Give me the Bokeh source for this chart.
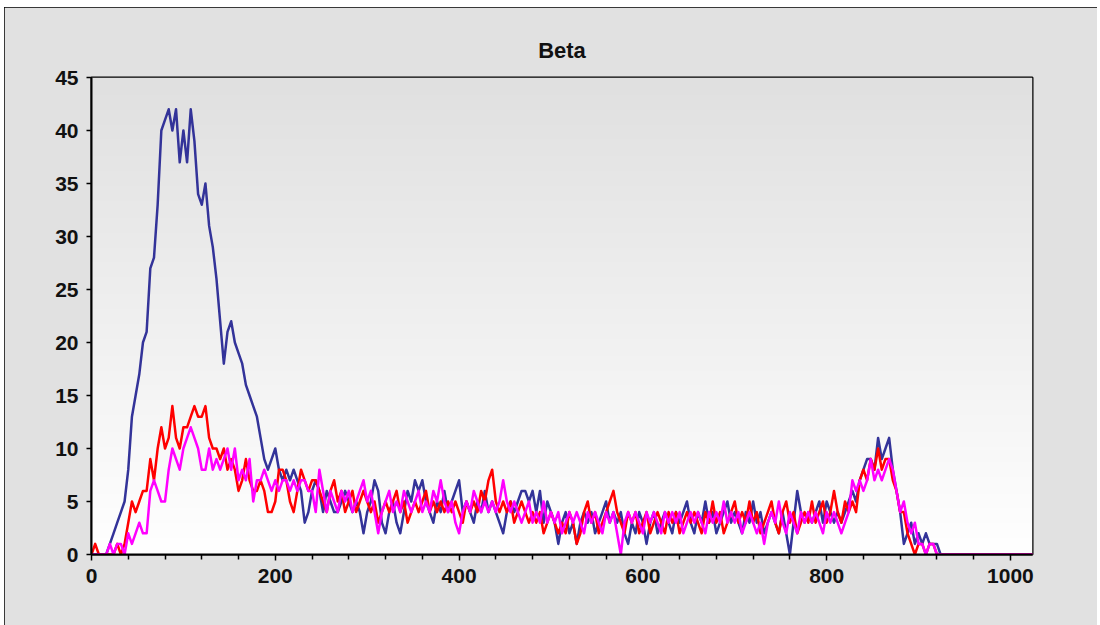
import numpy as np
from bokeh.plotting import figure
from bokeh.models import Range1d, FixedTicker
from bokeh.embed import file_html
from bokeh.resources import INLINE

channel_step = 4

blue = [
    0, 0, 0, 0, 0, 1, 2, 3, 4, 5,
    8, 13, 15, 17, 20, 21, 27, 28, 33, 40,
    41, 42, 40, 42, 37, 40, 37, 42, 39, 34,
    33, 35, 31, 29, 26, 22, 18, 21, 22, 20,
    19, 18, 16, 15, 14, 13, 11, 9, 8, 9,
    10, 8, 7, 8, 7, 8, 7, 6, 3, 4,
    6, 7, 6, 4, 6, 5, 4, 4, 5, 6,
    5, 4, 5, 4, 2, 4, 5, 7, 6, 3,
    2, 4, 5, 3, 2, 4, 6, 5, 7, 6,
    7, 5, 4, 3, 5, 4, 6, 4, 5, 6,
    7, 4, 5, 4, 3, 5, 4, 6, 4, 5,
    4, 3, 2, 4, 5, 4, 5, 6, 6, 5,
    6, 4, 6, 3, 5, 4, 3, 1, 3, 4,
    2, 3, 1, 3, 4, 3, 4, 2, 3, 4,
    5, 3, 4, 3, 4, 2, 1, 3, 2, 4,
    3, 1, 3, 4, 2, 3, 4, 3, 2, 4,
    3, 4, 5, 3, 2, 4, 3, 5, 3, 4,
    2, 3, 4, 5, 3, 4, 3, 2, 4, 3,
    5, 3, 4, 2, 3, 4, 3, 2, 4, 2,
    0, 3, 6, 4, 3, 4, 3, 4, 5, 3,
    5, 4, 3, 4, 3, 4, 5, 6, 5, 7,
    8, 9, 9, 8, 11, 9, 10, 11, 8, 6,
    4, 1, 2, 3, 1, 2, 1, 2, 1, 1,
    1, 0, 0, 0, 0, 0, 0, 0, 0, 0,
    0, 0, 0, 0, 0, 0, 0, 0, 0, 0,
    0, 0, 0, 0, 0, 0, 0,
]

red = [
    0, 1, 0, 0, 0, 0, 0, 1, 0, 1,
    3, 5, 4, 5, 6, 6, 9, 7, 10, 12,
    10, 11, 14, 11, 10, 12, 12, 13, 14, 13,
    13, 14, 11, 10, 10, 9, 10, 8, 9, 8,
    6, 7, 9, 7, 6, 6, 7, 6, 4, 4,
    5, 8, 8, 7, 5, 4, 6, 8, 7, 6,
    7, 7, 6, 5, 4, 6, 7, 5, 6, 4,
    5, 6, 4, 5, 6, 5, 4, 5, 3, 4,
    5, 4, 5, 6, 4, 5, 3, 4, 5, 4,
    5, 6, 4, 5, 4, 5, 4, 5, 4, 5,
    4, 3, 5, 4, 5, 4, 6, 5, 7, 8,
    5, 4, 5, 4, 5, 3, 4, 5, 4, 3,
    4, 3, 4, 2, 3, 4, 3, 2, 3, 2,
    4, 3, 1, 2, 4, 5, 3, 4, 2, 3,
    4, 5, 6, 4, 3, 2, 4, 3, 4, 2,
    3, 4, 2, 3, 4, 3, 2, 4, 3, 4,
    2, 3, 4, 3, 4, 3, 2, 4, 3, 5,
    3, 4, 2, 3, 4, 5, 3, 4, 3, 5,
    3, 4, 2, 3, 4, 5, 3, 2, 4, 5,
    3, 4, 2, 3, 4, 3, 5, 3, 4, 5,
    3, 4, 6, 4, 3, 5, 4, 5, 4, 7,
    8, 7, 9, 8, 10, 8, 9, 9, 7, 6,
    4, 4, 2, 1, 0, 1, 1, 0, 1, 1,
    0, 0, 0, 0, 0, 0, 0, 0, 0, 0,
    0, 0, 0, 0, 0, 0, 0, 0, 0, 0,
    0, 0, 0, 0, 0, 0, 0,
]

magenta = [
    0, 0, 0, 0, 0, 1, 0, 1, 1, 0,
    2, 1, 2, 3, 2, 2, 6, 7, 6, 5,
    5, 8, 10, 9, 8, 10, 11, 12, 11, 10,
    8, 8, 10, 8, 9, 8, 9, 10, 8, 10,
    7, 8, 7, 9, 5, 7, 7, 8, 7, 6,
    7, 6, 7, 7, 6, 7, 6, 7, 7, 6,
    6, 4, 8, 6, 4, 6, 5, 4, 6, 5,
    6, 4, 5, 6, 7, 5, 6, 4, 2, 4,
    5, 6, 4, 5, 4, 6, 5, 4, 5, 6,
    4, 5, 4, 6, 5, 7, 5, 4, 5, 3,
    2, 4, 5, 4, 6, 5, 4, 5, 4, 5,
    4, 5, 7, 5, 4, 5, 4, 3, 4, 5,
    3, 4, 3, 5, 3, 4, 3, 4, 2, 3,
    4, 3, 4, 3, 2, 4, 3, 4, 3, 2,
    4, 3, 4, 2, 0, 3, 4, 3, 4, 3,
    2, 4, 3, 4, 3, 2, 4, 3, 4, 3,
    4, 2, 3, 4, 3, 4, 3, 2, 4, 3,
    4, 3, 5, 3, 4, 3, 4, 2, 3, 4,
    3, 2, 3, 1, 3, 4, 3, 5, 3, 2,
    4, 3, 2, 4, 3, 4, 3, 4, 3, 2,
    4, 3, 4, 3, 2, 3, 4, 7, 6, 7,
    6, 7, 9, 7, 8, 7, 8, 9, 8, 6,
    4, 5, 3, 2, 3, 1, 1, 0, 1, 1,
    0, 0, 0, 0, 0, 0, 0, 0, 0, 0,
    0, 0, 0, 0, 0, 0, 0, 0, 0, 0,
    0, 0, 0, 0, 0, 0, 0,
]

x_major_ticks = [0, 200, 400, 600, 800, 1000]
x_minor_ticks = [v for v in range(0, 1025, 40) if v % 200 != 0]
y_ticks = [0, 5, 10, 15, 20, 25, 30, 35, 40, 45]
title_text = "Beta"

x_max = 1024
y_max = 45

channels = np.arange(len(blue)) * channel_step

# ---- figure ----
p = figure(
    width=1093, height=618,
    output_backend="svg", toolbar_location=None,
    x_range=Range1d(0, x_max), y_range=Range1d(0, y_max),
    min_border_left=87, min_border_right=65,
    min_border_top=70, min_border_bottom=71,
    title=title_text,
)
p.styles = {"margin-left": "4px", "margin-top": "7px",
            "outline": "1px solid #000000", "outline-offset": "-1px"}
p.background_fill_color = "#ffffff"
p.border_fill_color = "#e1e1e1"
p.outline_line_color = "black"
p.outline_line_width = 2

# title
p.title.align = "center"
p.title.text_font = "Liberation Sans"
p.title.text_font_style = "bold"
p.title.text_font_size = "22px"
p.title.text_color = "#111111"
p.title.standoff = 30

# vertical gradient background (grey at top -> white at bottom)
n = 256
shade = np.linspace(255, 224, n).astype(np.uint8)
img = np.empty((n, 1), dtype=np.uint32)
view = img.view(dtype=np.uint8).reshape((n, 1, 4))
view[:, 0, 0] = shade
view[:, 0, 1] = shade
view[:, 0, 2] = shade
view[:, 0, 3] = 255
p.image_rgba(image=[img], x=0, y=0, dw=x_max, dh=y_max)

# lines
p.line(channels, blue, line_color="#333399", line_width=2.5, line_join="round")
p.line(channels, red, line_color="#ff0000", line_width=2.5, line_join="round")
p.line(channels, magenta, line_color="#ff00ff", line_width=2.5, line_join="round")

# grids off
p.xgrid.visible = False
p.ygrid.visible = False

# axes
for ax in (p.xaxis[0], p.yaxis[0]):
    ax.axis_line_color = "black"
    ax.axis_line_width = 2
    ax.major_tick_line_color = "black"
    ax.major_tick_line_width = 1.5
    ax.major_tick_in = 0
    ax.major_label_text_font = "Liberation Sans"
    ax.major_label_text_font_style = "bold"
    ax.major_label_text_font_size = "21px"
    ax.major_label_text_color = "#111111"

p.xaxis.ticker = FixedTicker(ticks=x_major_ticks, minor_ticks=x_minor_ticks)
p.xaxis.major_tick_out = 6
p.xaxis.minor_tick_out = 5
p.xaxis.minor_tick_in = 0
p.xaxis.minor_tick_line_color = "black"
p.xaxis.minor_tick_line_width = 1.5
p.xaxis.major_label_standoff = 8

p.yaxis.ticker = FixedTicker(ticks=y_ticks)
p.yaxis.major_tick_out = 5
p.yaxis.minor_tick_line_color = None
p.yaxis.major_label_standoff = 8

open("out.html", "w").write(file_html(p, INLINE))
